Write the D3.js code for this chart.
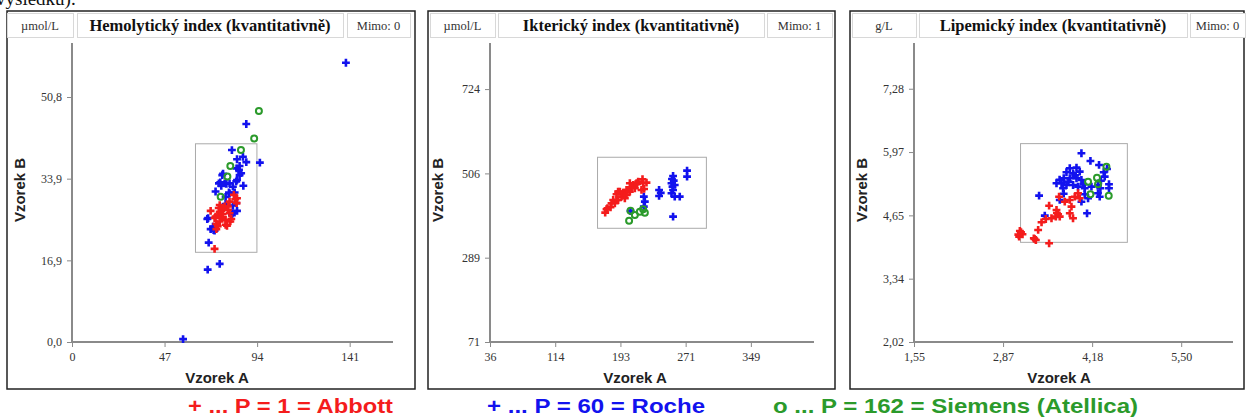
<!DOCTYPE html>
<html>
<head>
<meta charset="utf-8">
<script src="https://cdn.jsdelivr.net/npm/d3@7"></script>
<style>
  html, body { margin: 0; padding: 0; background: #fff; }
  svg { display: block; }
</style>
</head>
<body>
<svg id="chart" width="1246" height="418"></svg>
<script>
// ---- data ----
const hemTitle = "Hemolytický index (kvantitativně)";
const hemUnit = "µmol/L";
const hemMimo = "Mimo: 0";
const hemXTicks = [0, 47, 94, 141];
const hemXLabels = ["0", "47", "94", "141"];
const hemYTicks = [0, 16.93, 33.87, 50.8];
const hemYLabels = ["0,0", "16,9", "33,9", "50,8"];
const hemBox = [62.7, 93.9, 18.6, 41.1];
const hemAbbott = [[82.2,30.5],[82.9,29.6],[80.0,29.1],[83.6,28.8],[79.2,28.1],[77.0,27.7],[70.4,27.2],[75.0,27.0],[74.1,26.3],[72.9,26.0],[75.8,25.7],[78.0,25.3],[80.4,25.0],[75.0,25.0],[73.3,24.5],[78.0,24.3],[72.4,19.3],[75.0,28.4],[77.5,28.1],[83.8,29.8],[80.0,26.7],[75.8,25.9],[80.9,25.5],[73.3,23.4],[78.7,24.1],[76.7,27.4],[79.2,27.4],[72.4,25.7],[74.0,24.0],[76.5,26.5],[74.5,27.8]];
const hemRoche = [[139.1,57.9],[56.4,0.6],[88.5,45.2],[81.2,39.8],[95.4,37.2],[88.5,37.3],[86.8,38.4],[83.8,37.9],[85.1,36.5],[84.8,35.7],[85.1,34.6],[76.3,34.6],[83.8,33.6],[87.0,32.4],[74.6,32.9],[75.8,32.4],[78.4,32.8],[81.7,32.2],[72.9,31.2],[79.7,31.0],[82.6,31.0],[78.0,30.1],[81.7,28.3],[83.8,27.2],[81.4,26.7],[68.7,25.5],[71.6,23.9],[70.4,23.4],[72.4,23.1],[69.4,20.6],[75.0,16.2],[68.9,15.0],[85.9,35.0],[76.7,34.9],[75.3,33.1],[77.5,32.9],[80.0,32.9],[83.4,33.3],[80.0,30.8],[78.0,28.6],[83.4,28.8],[81.2,26.3],[69.1,25.7],[71.9,23.2],[83.6,36.0]];
const hemSiemens = [[94.9,47.9],[92.5,42.2],[85.8,39.8],[80.4,36.5],[78.9,34.3],[75.5,30.1]];

const iktTitle = "Ikterický index (kvantitativně)";
const iktUnit = "µmol/L";
const iktMimo = "Mimo: 1";
const iktXTicks = [36, 114.3, 192.6, 270.9, 349.2];
const iktXLabels = ["36", "114", "193", "271", "349"];
const iktYTicks = [71, 288.7, 506.3, 724];
const iktYLabels = ["71", "289", "506", "724"];
const iktBox = [165.1, 295.8, 364.6, 548];
const iktAbbott = [[174.3,405],[175.9,413.7],[177.1,416.3],[180.7,418.9],[181.9,429.2],[185.9,429.2],[183.9,437.7],[187.9,437.7],[189.8,437.7],[187.9,452.5],[189.8,459.2],[191.9,459.2],[193.9,446.3],[195.9,456.6],[197.9,450.6],[197.9,442.1],[199.9,450.6],[199.9,463.6],[201.9,463.6],[203.9,459.2],[203.9,480.8],[206.0,467.9],[207.9,476.5],[209.9,467.9],[212.0,480.8],[212.6,479.1],[213.9,485.1],[217.9,463.6],[219.1,491.2],[219.8,480.8],[221.0,466.2],[223.9,482.5]];
const iktRoche = [[255.8,499.7],[256.6,487.6],[253.9,480.8],[257.8,476.5],[255.8,463.6],[253.9,455.1],[257.8,446.3],[263.8,446.3],[255.8,394.6],[272.6,513.4],[272.6,498.0],[239.0,463.6],[239.0,448.1],[220.7,446.3],[221.9,433.4],[220.7,420.5],[204.7,409.3],[255.1,472.1],[241.0,456.0],[254.5,492.0]];
const iktSiemens = [[203.0,384.3],[209.9,399.0],[215.9,407.6],[219.8,413.7],[221.9,405.0],[204.7,410.1]];

const lipTitle = "Lipemický index (kvantitativně)";
const lipUnit = "g/L";
const lipMimo = "Mimo: 0";
const lipXTicks = [1.55, 2.865, 4.18, 5.495];
const lipXLabels = ["1,55", "2,87", "4,18", "5,50"];
const lipYTicks = [2.02, 3.335, 4.65, 5.965, 7.28];
const lipYLabels = ["2,02", "3,34", "4,65", "5,97", "7,28"];
const lipBox = [3.123, 4.70, 4.09, 6.14];
const lipAbbott = [[3.113,4.326],[3.152,4.257],[3.102,4.207],[3.13,4.30],[3.319,4.174],[3.349,4.139],[3.33,4.16],[3.545,4.070],[3.383,4.347],[3.433,4.506],[3.496,4.575],[3.545,4.851],[3.580,4.590],[3.654,4.762],[3.678,4.673],[3.644,4.623],[3.702,4.623],[3.692,5.038],[3.776,4.934],[3.850,4.970],[3.875,4.831],[3.850,4.693],[3.898,4.590],[3.924,5.038],[3.972,5.109],[3.997,5.005],[3.66,4.70],[3.09,4.25]];
const lipRoche = [[4.022,5.940],[4.155,5.780],[4.282,5.697],[4.351,5.545],[4.400,5.614],[3.850,5.628],[3.949,5.641],[3.997,5.558],[3.899,5.524],[3.801,5.545],[3.761,5.421],[3.850,5.421],[3.949,5.421],[4.022,5.385],[3.654,5.317],[3.728,5.317],[3.801,5.281],[3.899,5.281],[3.972,5.246],[3.751,5.213],[4.071,5.213],[4.170,5.246],[4.267,5.281],[4.302,5.213],[4.429,5.296],[4.429,5.213],[4.366,5.454],[3.397,5.059],[3.702,4.970],[4.022,4.934],[4.071,5.088],[4.120,5.005],[4.292,5.038],[4.267,5.109],[4.105,4.693],[3.481,4.644],[3.93,5.48],[3.70,5.39],[3.83,5.35],[4.05,5.30],[4.31,5.37],[3.76,5.10]];
const lipSiemens = [[4.391,5.661],[4.252,5.433],[4.120,5.350],[4.267,5.296],[4.155,5.088],[4.425,5.059]];

const legendLabels = ["+ ... P = 1 = Abbott", "+ ... P = 60 = Roche", "o ... P = 162 = Siemens (Atellica)"];

// ---- styling ----
const RED = "#f41c1c", BLUE = "#1212ee", GREEN = "#2b9a2b";
const SERIF = "'Liberation Serif', 'Times New Roman', serif";
const SANS = "'Liberation Sans', Arial, sans-serif";

const svg = d3.select("#chart");

// cut-off line of text above the charts (also cut in the original)
svg.append("text")
    .attr("x", -4).attr("y", 5)
    .attr("font-family", SERIF).attr("font-size", "19px")
    .attr("fill", "#111")
    .text("výsledků).");

const panels = [
    { left: 7, right: 415, axL: 72, axR: 393, xDom: [0, 163], yDom: [0, 62],
      unitBox: [7, 73], titleBox: [77, 343], mimoBox: [347, 410],
      title: hemTitle, unit: hemUnit, mimo: hemMimo,
      xt: hemXTicks, xl: hemXLabels, yt: hemYTicks, yl: hemYLabels, box: hemBox,
      abbott: hemAbbott, roche: hemRoche, siemens: hemSiemens },
    { left: 428, right: 835, axL: 490, axR: 814, xDom: [36, 425], yDom: [71, 843],
      unitBox: [430, 495], titleBox: [498, 764], mimoBox: [767, 832],
      title: iktTitle, unit: iktUnit, mimo: iktMimo,
      xt: iktXTicks, xl: iktXLabels, yt: iktYTicks, yl: iktYLabels, box: iktBox,
      abbott: iktAbbott, roche: iktRoche, siemens: iktSiemens },
    { left: 850, right: 1244, axL: 914, axR: 1233, xDom: [1.55, 6.26], yDom: [2.02, 8.23],
      unitBox: [852, 916], titleBox: [919, 1187], mimoBox: [1190, 1245],
      title: lipTitle, unit: lipUnit, mimo: lipMimo,
      xt: lipXTicks, xl: lipXLabels, yt: lipYTicks, yl: lipYLabels, box: lipBox,
      abbott: lipAbbott, roche: lipRoche, siemens: lipSiemens }
];

const TOP = 11, BOTTOM = 389, AX_TOP = 43, AX_BOT = 342;
const plus = d3.symbol().type(d3.symbolCross).size(34);

panels.forEach(p => {
    const g = svg.append("g");
    const x = d3.scaleLinear().domain(p.xDom).range([p.axL, p.axR]);
    const y = d3.scaleLinear().domain(p.yDom).range([AX_BOT, AX_TOP]);

    // outer frame
    g.append("rect")
        .attr("x", p.left).attr("y", TOP)
        .attr("width", p.right - p.left).attr("height", BOTTOM - TOP)
        .attr("fill", "#fff").attr("stroke", "#222").attr("stroke-width", 1.5);

    // header boxes
    const hdr = [
        { b: p.unitBox, t: p.unit, size: 12.5, bold: false },
        { b: p.titleBox, t: p.title, size: 16.5, bold: true },
        { b: p.mimoBox, t: p.mimo, size: 12.5, bold: false }
    ];
    hdr.forEach(h => {
        g.append("rect")
            .attr("x", h.b[0] + 0.5).attr("y", 13.5)
            .attr("width", h.b[1] - h.b[0]).attr("height", 24)
            .attr("fill", "#fff").attr("stroke", "#d8d8d8").attr("stroke-width", 1);
        g.append("text")
            .attr("x", (h.b[0] + h.b[1]) / 2).attr("y", h.bold ? 31 : 30)
            .attr("text-anchor", "middle")
            .attr("font-family", SERIF)
            .attr("font-size", h.size + "px")
            .attr("font-weight", h.bold ? "bold" : "normal")
            .attr("fill", h.bold ? "#111" : "#333")
            .text(h.t);
    });

    // axes
    const xAxis = d3.axisBottom(x).tickValues(p.xt)
        .tickFormat((d, i) => p.xl[i]).tickSize(5).tickPadding(5);
    const yAxis = d3.axisLeft(y).tickValues(p.yt)
        .tickFormat((d, i) => p.yl[i]).tickSize(5).tickPadding(5);

    const gx = g.append("g").attr("transform", `translate(0,${AX_BOT})`).call(xAxis);
    const gy = g.append("g").attr("transform", `translate(${p.axL},0)`).call(yAxis);
    [gx, gy].forEach(a => {
        a.select(".domain").attr("stroke", "#8a8a8a").attr("stroke-width", 2);
        a.selectAll(".tick line").attr("stroke", "#8a8a8a").attr("stroke-width", 1);
        a.selectAll(".tick text")
            .attr("font-family", SERIF).attr("font-size", "12px").attr("fill", "#333");
    });
    gx.select(".domain").attr("d", `M${p.axL},0H${p.axR}`);
    gy.select(".domain").attr("d", `M0,${AX_BOT}V${AX_TOP}`);

    g.append("text")
        .attr("x", p.axL + 145).attr("y", 383)
        .attr("text-anchor", "middle")
        .attr("font-family", SANS).attr("font-size", "15px").attr("font-weight", "bold")
        .attr("fill", "#222")
        .text("Vzorek A");
    g.append("text")
        .attr("transform", `translate(${p.axL - 52},190) rotate(-90)`)
        .attr("dy", "0.35em")
        .attr("text-anchor", "middle")
        .attr("font-family", SANS).attr("font-size", "15px").attr("font-weight", "bold")
        .attr("fill", "#222")
        .text("Vzorek B");

    // acceptance box
    g.append("rect")
        .attr("x", x(p.box[0])).attr("y", y(p.box[3]))
        .attr("width", x(p.box[1]) - x(p.box[0]))
        .attr("height", y(p.box[2]) - y(p.box[3]))
        .attr("fill", "none").attr("stroke", "#aaa").attr("stroke-width", 1);

    // points
    g.append("g").selectAll("path")
        .data(p.roche).join("path")
        .attr("transform", d => `translate(${x(d[0])},${y(d[1])})`)
        .attr("d", plus).attr("fill", BLUE);
    g.append("g").selectAll("path")
        .data(p.abbott).join("path")
        .attr("transform", d => `translate(${x(d[0])},${y(d[1])})`)
        .attr("d", plus).attr("fill", RED);
    g.append("g").selectAll("circle")
        .data(p.siemens).join("circle")
        .attr("cx", d => x(d[0])).attr("cy", d => y(d[1]))
        .attr("r", 3)
        .attr("fill", "none").attr("stroke", GREEN).attr("stroke-width", 2);
});

// legend line below the panels
const legendX = [188, 487, 773];
const legendWidths = [205, 218, 365];
const legendColors = [RED, BLUE, GREEN];
svg.append("g").selectAll("text")
    .data(legendLabels).join("text")
    .attr("x", (d, i) => legendX[i]).attr("y", 413)
    .attr("font-family", SANS).attr("font-size", "21px").attr("font-weight", "bold")
    .attr("textLength", (d, i) => legendWidths[i])
    .attr("lengthAdjust", "spacingAndGlyphs")
    .attr("fill", (d, i) => legendColors[i])
    .text(d => d);
</script>
</body>
</html>
